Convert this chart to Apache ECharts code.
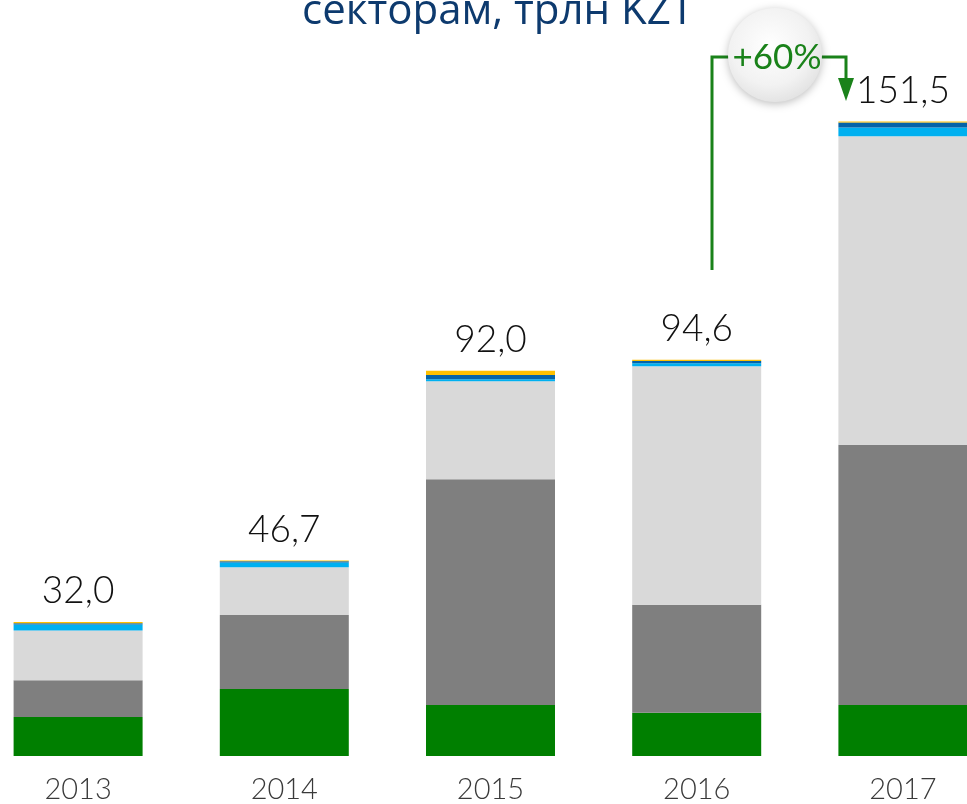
<!DOCTYPE html>
<html>
<head>
<meta charset="utf-8">
<script src="https://cdn.jsdelivr.net/npm/echarts@6/dist/echarts.min.js"></script>
<style>
  html, body { margin: 0; padding: 0; background: #fff; overflow: hidden; }
  /* the picture is a crop: the plot runs past both edges of the window */
  #chart { position: absolute; left: -25px; top: 0; width: 1031px; height: 804px; }
</style>
</head>
<body>
<div id="chart"></div>
<script>
var years = ['2013', '2014', '2015', '2016', '2017'];
var totals = [32.0, 46.7, 92.0, 94.6, 151.5];

// stacked segments, bottom to top
var seg1 = [9.3, 16.0, 12.2, 10.3, 12.2];   // green
var seg2 = [8.8, 17.7, 53.9, 25.8, 62.1];   // dark grey
var seg3 = [11.9, 11.4, 23.4, 57.0, 73.7];  // light grey
var seg4 = [1.4, 1.1, 0.5, 0.7, 2.1];       // light blue
var seg5 = [0.3, 0.3, 1.0, 0.5, 1.2];       // dark blue
var seg6 = [0.3, 0.2, 1.0, 0.3, 0.2];       // orange

var colors = ['#007f00', '#7f7f7f', '#d9d9d9', '#00b0f0', '#0563a8', '#ffc000'];
var segs = [seg1, seg2, seg3, seg4, seg5, seg6];

var OX = 25; // shift of the chart div, for the annotation shapes

var chart = echarts.init(document.getElementById('chart'));

var series = segs.map(function (d, i) {
  var s = {
    type: 'bar',
    stack: 'total',
    data: d,
    barWidth: 129,
    itemStyle: { color: colors[i] },
    emphasis: { disabled: true }
  };
  if (i === segs.length - 1) {
    s.label = {
      show: true,
      position: 'top',
      distance: 12,
      fontFamily: 'Lato',
      fontWeight: 300,
      fontSize: 37,
      color: '#111',
      formatter: function (p) {
        return totals[p.dataIndex].toFixed(1).replace('.', ',');
      }
    };
  }
  return s;
});

var green = '#1a821a';

var option = {
  animation: false,
  grid: { left: 0, right: 0, top: 86, bottom: 47 },
  xAxis: {
    type: 'category',
    data: years,
    axisTick: { show: false },
    axisLine: { show: false },
    axisLabel: { margin: 19, fontFamily: 'Lato', fontWeight: 300, fontSize: 29, color: '#3a3a3a' }
  },
  yAxis: {
    type: 'value',
    min: 0,
    max: 160,
    show: false,
    splitLine: { show: false }
  },
  series: series,
  graphic: [
    {
      type: 'text',
      x: 498 + OX,
      y: 33,
      style: {
        text: 'секторам, трлн KZT',
        fontFamily: 'Open Sans',
        fontSize: 42,
        fill: '#0d3a6e',
        align: 'center',
        verticalAlign: 'bottom'
      }
    },
    {
      type: 'polyline',
      shape: { points: [[712 + OX, 270], [712 + OX, 57], [740 + OX, 57]] },
      style: { stroke: green, lineWidth: 3, fill: null }
    },
    {
      type: 'polyline',
      shape: { points: [[810 + OX, 57], [846 + OX, 57], [846 + OX, 82]] },
      style: { stroke: green, lineWidth: 3, fill: null }
    },
    {
      type: 'polygon',
      shape: { points: [[838 + OX, 78], [854 + OX, 78], [846 + OX, 101]] },
      style: { fill: green }
    },
    {
      type: 'circle',
      shape: { cx: 775 + OX, cy: 55, r: 47 },
      style: {
        fill: new echarts.graphic.RadialGradient(0.45, 0.4, 0.7, [
          { offset: 0, color: '#ffffff' },
          { offset: 0.6, color: '#f2f2f2' },
          { offset: 1, color: '#dcdcdc' }
        ]),
        shadowBlur: 8,
        shadowColor: 'rgba(0,0,0,0.25)',
        shadowOffsetY: 2
      }
    },
    {
      type: 'text',
      x: 777 + OX,
      y: 58,
      style: {
        text: '+60%',
        fontFamily: 'Lato',
        fontSize: 35,
        fill: green,
        align: 'center',
        verticalAlign: 'middle'
      }
    }
  ]
};

chart.setOption(option);

window.onresize = chart.resize;
</script>
</body>
</html>
